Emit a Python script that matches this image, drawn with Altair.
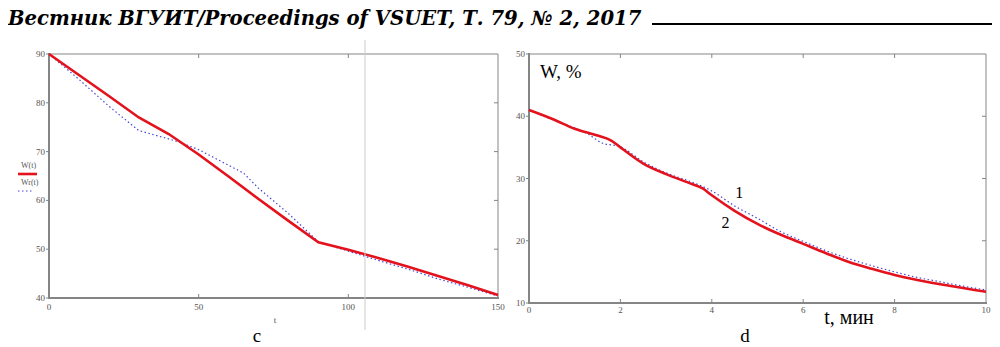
import altair as alt
import pandas as pd

# ---------------- data ----------------
HEADER = "Вестник ВГУИТ/Proceedings of VSUET, Т. 79, № 2, 2017"

# panel c : W(t) (solid red) and Wr(t) (dotted blue)
c_t = [0, 10, 20, 30, 40, 50, 60, 70, 80, 90, 100, 110, 120, 130, 140, 150]
c_w = [90, 85.7, 81.4, 77.0, 73.6, 69.4, 64.9, 60.3, 55.8, 51.4, 49.9, 48.2, 46.4, 44.5, 42.6, 40.6]
c_tr = [0, 5, 10, 20, 30, 40, 45, 50, 60, 65, 70, 80, 90, 100, 110, 120, 130, 140, 150]
c_wr = [90, 87.4, 84.8, 79.3, 74.3, 72.6, 71.6, 70.4, 67.2, 65.6, 62.5, 57.3, 51.5, 49.6, 47.7, 45.9, 43.9, 42.2, 40.4]
c_x_ticks = [0, 50, 100, 150]
c_y_ticks = [40, 50, 60, 70, 80, 90]
c_x_inner = [50, 100]
c_y_inner = [50, 60, 70, 80]
c_xtitle = "t"
c_legend = ["W(t)", "Wr(t)"]

# panel d : curve 2 (solid red) and curve 1 (dotted blue)
d_t = [0, 0.5, 1.0, 1.5, 1.8, 2.0, 2.5, 3.0, 3.5, 3.8, 4.0, 4.5, 5.0, 5.5, 6.0, 6.5, 7.0, 7.5, 8.0, 8.5, 9.0, 9.5, 10]
d_w = [41.0, 39.6, 38.0, 36.9, 36.1, 35.0, 32.4, 30.7, 29.3, 28.4, 27.3, 24.8, 22.7, 21.0, 19.5, 18.0, 16.6, 15.5, 14.5, 13.7, 13.0, 12.4, 11.8]
d_tr = [0, 0.5, 1.0, 1.3, 1.6, 2.0, 2.5, 3.0, 3.5, 4.0, 4.5, 5.0, 5.5, 6.0, 6.5, 7.0, 7.5, 8.0, 8.5, 9.0, 9.5, 10]
d_wr = [41.0, 39.5, 38.1, 37.1, 35.7, 35.1, 32.7, 30.9, 29.6, 28.0, 25.6, 23.6, 21.5, 19.9, 18.4, 17.1, 16.0, 15.0, 14.1, 13.4, 12.7, 12.1]
d_x_ticks = [0, 2, 4, 6, 8, 10]
d_y_ticks = [10, 20, 30, 40, 50]
d_x_inner = [2, 4, 6, 8]
d_y_inner = [20, 30, 40]
d_xtitle = "t, мин"
d_ytitle = "W, %"
ann_t = [4.6, 4.3]
ann_w = [26.9, 22.0]
ann_txt = ["1", "2"]
captions = ["c", "d"]

# ---------------- layout ----------------
W_TOT, H_TOT = 984, 339
CX = [41, 490]
CY = [290, 46]
DX = [521, 978]
DY = [295, 46]

SERIF = "Liberation Serif"
GRAY = "#858585"
LBL = "#555555"
RED = "#e3121c"
BLUE = "#4848d4"

one = pd.DataFrame({"a": [0]})


def ticks_df(vals):
    return pd.DataFrame({"v": vals, "lab": [str(v) for v in vals]})


def panel(t, w, tr, wr, xdom, ydom, xr, yr, xt, yt, xin, yin, xlab_dy, interp):
    xs = alt.Scale(domain=xdom, range=xr, nice=False, zero=False)
    ys = alt.Scale(domain=ydom, range=yr, nice=False, zero=False)
    X = lambda f: alt.X(f, scale=xs, axis=None)
    Y = lambda f: alt.Y(f, scale=ys, axis=None)
    df_main = pd.DataFrame({"t": t, "W": w})
    df_r = pd.DataFrame({"t": tr, "W": wr})
    main = alt.Chart(df_main).mark_line(color=RED, strokeWidth=2.6, interpolate=interp).encode(
        x=X("t:Q"), y=Y("W:Q"))
    dotted = alt.Chart(df_r).mark_line(color=BLUE, strokeWidth=1.2, strokeDash=[1.5, 2.5],
                                       interpolate=interp).encode(x=X("t:Q"), y=Y("W:Q"))
    # frame: thick left/bottom axis lines, thin top/right border
    left = alt.Chart(one).mark_rule(color=GRAY, strokeWidth=2).encode(
        x=alt.value(xr[0]), y=alt.value(yr[1] - 1), y2=alt.value(yr[0] + 1))
    bottom = alt.Chart(one).mark_rule(color=GRAY, strokeWidth=2).encode(
        x=alt.value(xr[0] - 1), x2=alt.value(xr[1] + 1), y=alt.value(yr[0]))
    top = alt.Chart(one).mark_rule(color=GRAY, strokeWidth=1).encode(
        x=alt.value(xr[0]), x2=alt.value(xr[1]), y=alt.value(yr[1]))
    right = alt.Chart(one).mark_rule(color=GRAY, strokeWidth=1).encode(
        x=alt.value(xr[1]), y=alt.value(yr[1]), y2=alt.value(yr[0]))
    # tick marks
    lt = alt.Chart(ticks_df(yt)).mark_rule(color=GRAY).encode(
        y=Y("v:Q"), x=alt.value(xr[0] - 3), x2=alt.value(xr[0]))
    bt = alt.Chart(ticks_df(xin)).mark_rule(color=GRAY).encode(
        x=X("v:Q"), y=alt.value(yr[0]), y2=alt.value(yr[0] - 4))
    tt = alt.Chart(ticks_df(xin)).mark_rule(color=GRAY).encode(
        x=X("v:Q"), y=alt.value(yr[1]), y2=alt.value(yr[1] + 4))
    rt = alt.Chart(ticks_df(yin)).mark_rule(color=GRAY).encode(
        y=Y("v:Q"), x=alt.value(xr[1]), x2=alt.value(xr[1] - 4))
    # tick labels
    ylab = alt.Chart(ticks_df(yt)).mark_text(font=SERIF, fontSize=9, color=LBL, align="right",
                                            baseline="middle").encode(
        y=Y("v:Q"), x=alt.value(xr[0] - 4), text="lab:N")
    xlab = alt.Chart(ticks_df(xt)).mark_text(font=SERIF, fontSize=9, color=LBL, align="center",
                                            baseline="middle").encode(
        x=X("v:Q"), y=alt.value(yr[0] + xlab_dy), text="lab:N")
    return [top, right, lt, bt, tt, rt, left, bottom, ylab, xlab, dotted, main], xs, ys


c_layers, cxs, cys = panel(c_t, c_w, c_tr, c_wr, [0, 150], [40, 90], CX, CY,
                           c_x_ticks, c_y_ticks, c_x_inner, c_y_inner, 9, "linear")
d_layers, dxs, dys = panel(d_t, d_w, d_tr, d_wr, [0, 10], [10, 50], DX, DY,
                           d_x_ticks, d_y_ticks, d_x_inner, d_y_inner, 7, "monotone")

# panel c: axis title and legend (label above a line sample)
c_extra = [
    alt.Chart(one).mark_text(text=c_xtitle, font=SERIF, fontSize=9, color=LBL,
                             baseline="middle").encode(x=alt.value(267), y=alt.value(312)),
    alt.Chart(one).mark_text(text=c_legend[0], font=SERIF, fontSize=8, color=LBL, align="left",
                             baseline="middle").encode(x=alt.value(13), y=alt.value(158)),
    alt.Chart(one).mark_rule(color=RED, strokeWidth=2.6).encode(
        x=alt.value(10), x2=alt.value(29), y=alt.value(166)),
    alt.Chart(one).mark_text(text=c_legend[1], font=SERIF, fontSize=8, color=LBL, align="left",
                             baseline="middle").encode(x=alt.value(13), y=alt.value(175)),
    alt.Chart(one).mark_rule(color=BLUE, strokeWidth=1.2, strokeDash=[1.5, 2.5]).encode(
        x=alt.value(10), x2=alt.value(25), y=alt.value(183)),
]

# panel d annotations
d_extra = [
    alt.Chart(one).mark_text(text=d_ytitle, font=SERIF, fontSize=19, align="left",
                             baseline="alphabetic", color="#000000").encode(
        x=alt.value(532), y=alt.value(70)),
    alt.Chart(one).mark_text(text=d_xtitle, font=SERIF, fontSize=20, align="center",
                             baseline="alphabetic", color="#000000").encode(
        x=alt.value(841), y=alt.value(316)),
    alt.Chart(pd.DataFrame({"t": ann_t, "W": ann_w, "s": ann_txt})).mark_text(
        font=SERIF, fontSize=16, baseline="alphabetic", color="#000000").encode(
        x=alt.X("t:Q", scale=dxs, axis=None), y=alt.Y("W:Q", scale=dys, axis=None), text="s:N"),
]

panel_c = alt.layer(*c_layers, *c_extra)
panel_d = alt.layer(*d_layers, *d_extra)

deco = [
    alt.Chart(one).mark_text(text=HEADER, font="DejaVu Serif", fontSize=19.6, fontStyle="italic",
                             fontWeight="bold", align="left", baseline="alphabetic",
                             color="#000000").encode(x=alt.value(0), y=alt.value(17)),
    alt.Chart(one).mark_rule(color="#000000", strokeWidth=2).encode(
        x=alt.value(644), x2=alt.value(984), y=alt.value(16)),
    alt.Chart(one).mark_rule(color="#cccccc", strokeWidth=1).encode(
        x=alt.value(357), y=alt.value(32), y2=alt.value(322)),
    alt.Chart(one).mark_text(text=captions[0], font=SERIF, fontSize=19, baseline="alphabetic",
                             color="#000000").encode(x=alt.value(249), y=alt.value(334)),
    alt.Chart(one).mark_text(text=captions[1], font=SERIF, fontSize=19, baseline="alphabetic",
                             color="#000000").encode(x=alt.value(737), y=alt.value(334)),
]

chart = alt.layer(panel_c, panel_d, *deco).resolve_scale(
    x="independent", y="independent"
).properties(
    width=W_TOT, height=H_TOT, autosize=alt.AutoSizeParams(type="none"), padding=0,
    background="#ffffff",
).configure_view(stroke="transparent")

chart.save("out.html", embed_options={"renderer": "svg", "actions": False})
